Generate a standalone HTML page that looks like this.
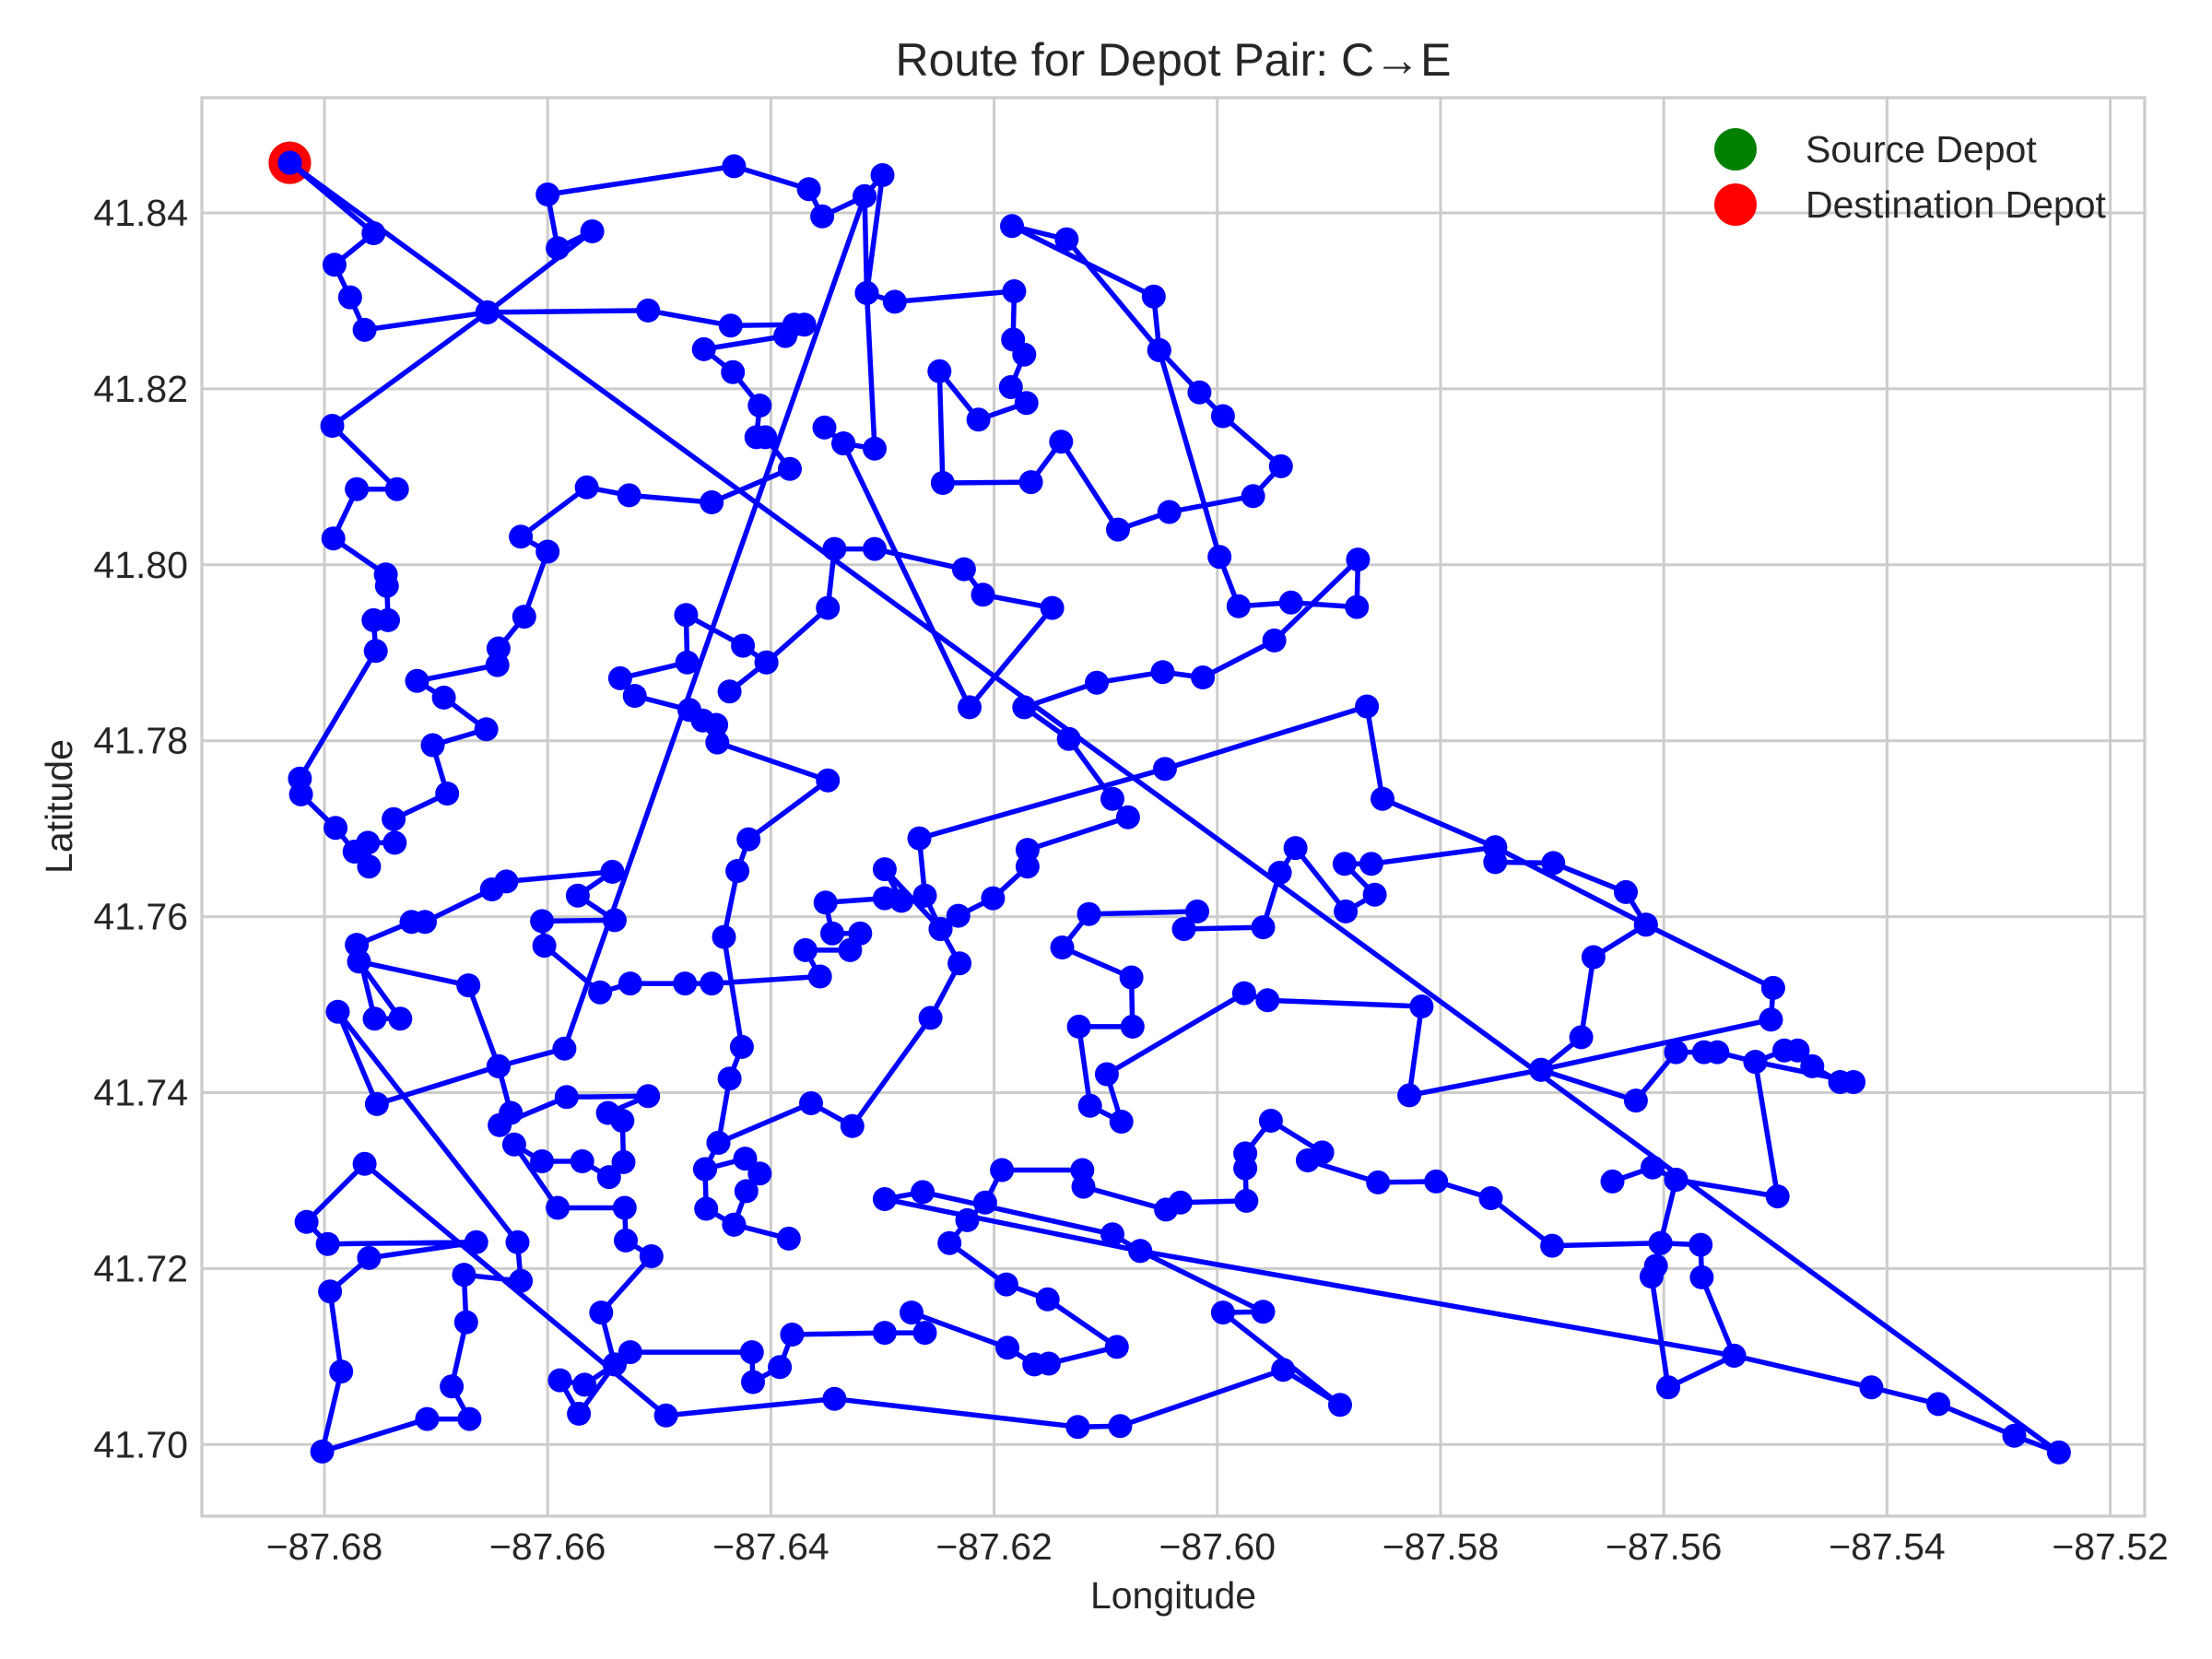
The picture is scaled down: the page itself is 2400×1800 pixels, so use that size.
<!DOCTYPE html>
<html>
<head>
<meta charset="utf-8">
<style>
  html,body{margin:0;padding:0;background:#fff;}
  svg{display:block;}
  text{font-family:"Liberation Sans", Arial, sans-serif; fill:#262626;}
</style>
</head>
<body>
<svg id="chart" width="2400" height="1800" viewBox="0 0 2400 1800" xmlns="http://www.w3.org/2000/svg">
  <rect x="0" y="0" width="2400" height="1800" fill="#fff"/>
  <g id="grid"></g>
  <g id="depots"></g>
  <g id="route"></g>
  <rect x="219" y="106" width="2108" height="1539" fill="none" stroke="#cccccc" stroke-width="3.3"/>
  <g id="xticks"></g>
  <g id="yticks"></g>
  <text x="1273" y="82" text-anchor="middle" font-size="50">Route for Depot Pair: C→E</text>
  <text x="1273" y="1745" text-anchor="middle" font-size="41">Longitude</text>
  <text x="0" y="0" transform="translate(78,875) rotate(-90)" text-anchor="middle" font-size="41">Latitude</text>
  <g>
    <g>
      <circle cx="1883" cy="162" r="23" fill="#008000"/>
      <text x="1959" y="176" font-size="41">Source Depot</text>
    </g>
    <g>
      <circle cx="1883" cy="222" r="23" fill="#ff0000"/>
      <text x="1959" y="236" font-size="41">Destination Depot</text>
    </g>
  </g>
</svg>
<script>
const xTickValues = [-87.68,-87.66,-87.64,-87.62,-87.60,-87.58,-87.56,-87.54,-87.52];
const xTickLabels = ["\u221287.68","\u221287.66","\u221287.64","\u221287.62","\u221287.60","\u221287.58","\u221287.56","\u221287.54","\u221287.52"];
const yTickValues = [41.70,41.72,41.74,41.76,41.78,41.80,41.82,41.84];
const yTickLabels = ["41.70","41.72","41.74","41.76","41.78","41.80","41.82","41.84"];
const sourceDepot = [-87.6831,41.8457];
const destinationDepot = [-87.6831,41.8457];
const route = [
[-87.6831,41.8457],[-87.6756,41.8377],[-87.6791,41.8341],[-87.6777,41.8304],[-87.6764,41.8267],[-87.6654,41.8287],
[-87.6793,41.8158],[-87.6735,41.8086],[-87.6771,41.8086],[-87.6792,41.8030],[-87.6745,41.7989],[-87.6744,41.7976],[-87.6743,41.7937],[-87.6756,41.7937],[-87.6754,41.7902],[-87.6822,41.7757],[-87.6821,41.7739],[-87.6790,41.7701],[-87.6773,41.7674],[-87.6760,41.7657],[-87.6761,41.7684],[-87.6737,41.7684],[-87.6738,41.7711],
[-87.6690,41.7740],[-87.6703,41.7795],[-87.6655,41.7813],[-87.6693,41.7849],[-87.6717,41.7868],[-87.6645,41.7886],[-87.6644,41.7905],[-87.6621,41.7941],[-87.6600,41.8015],[-87.6624,41.8032],[-87.6565,41.8088],[-87.6527,41.8079],[-87.6453,41.8071],[-87.6383,41.8109],[-87.6405,41.8145],[-87.6413,41.8145],[-87.6410,41.8181],[-87.6434,41.8219],[-87.6460,41.8245],[-87.6387,41.8260],[-87.6370,41.8273],[-87.6379,41.8273],[-87.6436,41.8272],[-87.6510,41.8289],[-87.6654,41.8287],
[-87.6560,41.8379],[-87.6591,41.8360],[-87.6600,41.8421],[-87.6433,41.8453],[-87.6366,41.8427],[-87.6354,41.8396],[-87.6316,41.8419],[-87.6300,41.8443],[-87.6314,41.8309],[-87.6289,41.8299],
[-87.6182,41.8311],[-87.6183,41.8256],[-87.6173,41.8239],[-87.6185,41.8202],[-87.6171,41.8184],[-87.6214,41.8165],[-87.6249,41.8220],[-87.6246,41.8093],[-87.6167,41.8094],[-87.6140,41.8140],[-87.6089,41.8040],[-87.6043,41.8060],[-87.5968,41.8078],[-87.5943,41.8112],[-87.5995,41.8169],[-87.6016,41.8196],[-87.6052,41.8244],[-87.6135,41.8370],[-87.6184,41.8385],[-87.6057,41.8305],[-87.6052,41.8244],[-87.5998,41.8009],[-87.5981,41.7953],[-87.5934,41.7957],[-87.5875,41.7952],[-87.5874,41.8006],[-87.5949,41.7914],[-87.6013,41.7872],[-87.6049,41.7878],[-87.6108,41.7866],[-87.6173,41.7838],[-87.6133,41.7802],[-87.6094,41.7734],[-87.6080,41.7713],
[-87.6170,41.7676],[-87.6170,41.7657],[-87.6201,41.7621],[-87.6232,41.7601],[-87.6248,41.7586],[-87.6262,41.7624],[-87.6267,41.7689],[-87.6047,41.7768],[-87.5866,41.7839],[-87.5852,41.7734],[-87.5751,41.7679],
[-87.5616,41.7591],[-87.5502,41.7519],[-87.5504,41.7483],[-87.5710,41.7426],
[-87.5828,41.7397],[-87.5817,41.7498],[-87.5955,41.7505],[-87.5976,41.7513],[-87.6099,41.7421],[-87.6086,41.7367],[-87.6114,41.7385],[-87.6124,41.7475],[-87.6076,41.7475],[-87.6077,41.7531],[-87.6139,41.7565],[-87.6115,41.7603],[-87.6018,41.7606],[-87.6030,41.7586],[-87.5959,41.7588],[-87.5944,41.7650],[-87.5930,41.7678],[-87.5885,41.7606],[-87.5859,41.7625],[-87.5886,41.7660],[-87.5862,41.7660],[-87.5751,41.7679],[-87.5751,41.7662],
[-87.5699,41.7661],[-87.5634,41.7628],[-87.5616,41.7591],[-87.5663,41.7554],[-87.5674,41.7463],[-87.5710,41.7426],[-87.5625,41.7391],[-87.5589,41.7446],[-87.5564,41.7446],[-87.5552,41.7446],[-87.5518,41.7435],[-87.5492,41.7448],[-87.5480,41.7448],[-87.5467,41.7430],[-87.5442,41.7412],[-87.5430,41.7412],[-87.5518,41.7435],[-87.5498,41.7282],[-87.5589,41.7301],[-87.5610,41.7315],[-87.5646,41.7299],[-87.5610,41.7315],[-87.5589,41.7301],[-87.5603,41.7229],[-87.5567,41.7227],[-87.5566,41.7190],[-87.5537,41.7101],[-87.5596,41.7065],[-87.5611,41.7191],[-87.5607,41.7203],[-87.5603,41.7229],[-87.5700,41.7226],
[-87.5755,41.7280],[-87.5804,41.7299],[-87.5856,41.7298],[-87.5919,41.7323],[-87.5906,41.7332],[-87.5952,41.7368],[-87.5975,41.7331],[-87.5975,41.7314],[-87.5974,41.7277],[-87.6033,41.7275],[-87.6046,41.7267],[-87.6120,41.7293],[-87.6121,41.7312],[-87.6193,41.7312],[-87.6208,41.7275],[-87.6224,41.7255],[-87.6240,41.7229],[-87.6189,41.7182],[-87.6152,41.7165],[-87.6090,41.7111],[-87.6151,41.7092],[-87.6164,41.7091],[-87.6188,41.7110],[-87.6274,41.7150],[-87.6262,41.7127],[-87.6298,41.7127],
[-87.6381,41.7125],[-87.6392,41.7088],[-87.6416,41.7071],[-87.6417,41.7105],[-87.6526,41.7105],[-87.6540,41.7091],[-87.6567,41.7068],[-87.6589,41.7073],[-87.6572,41.7035],[-87.6540,41.7091],[-87.6552,41.7150],[-87.6507,41.7214],[-87.6530,41.7232],[-87.6531,41.7269],[-87.6591,41.7269],[-87.6630,41.7341],[-87.6605,41.7322],[-87.6569,41.7322],[-87.6545,41.7304],[-87.6532,41.7321],[-87.6533,41.7368],[-87.6546,41.7377],[-87.6510,41.7396],[-87.6583,41.7395],[-87.6643,41.7363],[-87.6633,41.7377],
[-87.6644,41.7430],[-87.6671,41.7522],[-87.6769,41.7549],[-87.6732,41.7484],[-87.6755,41.7484],[-87.6771,41.7568],[-87.6722,41.7594],[-87.6710,41.7594],[-87.6650,41.7631],[-87.6637,41.7640],[-87.6542,41.7651],[-87.6573,41.7624],[-87.6540,41.7596],[-87.6605,41.7595],[-87.6603,41.7567],[-87.6553,41.7514],[-87.6526,41.7524],[-87.6477,41.7524],[-87.6453,41.7524],[-87.6356,41.7532],[-87.6369,41.7562],[-87.6329,41.7562],[-87.6320,41.7581],[-87.6345,41.7581],[-87.6351,41.7616],[-87.6298,41.7621],[-87.6283,41.7618],[-87.6298,41.7654],
[-87.6248,41.7586],[-87.6231,41.7547],[-87.6257,41.7485],[-87.6327,41.7362],[-87.6364,41.7388],[-87.6447,41.7343],[-87.6459,41.7313],[-87.6458,41.7268],[-87.6433,41.7250],[-87.6384,41.7234],[-87.6433,41.7250],[-87.6422,41.7288],[-87.6410,41.7308],[-87.6423,41.7325],[-87.6459,41.7313],[-87.6447,41.7343],[-87.6437,41.7416],[-87.6426,41.7452],[-87.6442,41.7577],[-87.6430,41.7652],[-87.6420,41.7688],[-87.6349,41.7755],[-87.6448,41.7798],[-87.6449,41.7818],[-87.6461,41.7823],[-87.6473,41.7835],[-87.6522,41.7851],[-87.6535,41.7871],[-87.6475,41.7889],[-87.6476,41.7943],[-87.6425,41.7908],[-87.6404,41.7889],[-87.6437,41.7856],[-87.6404,41.7889],[-87.6349,41.7951],[-87.6343,41.8018],[-87.6307,41.8018],[-87.6227,41.7995],[-87.6210,41.7966],[-87.6148,41.7951],[-87.6222,41.7838],[-87.6335,41.8138],[-87.6352,41.8156],[-87.6335,41.8138],[-87.6307,41.8132],[-87.6314,41.8309],[-87.6316,41.8419],[-87.6585,41.7450],
[-87.6644,41.7430],[-87.6753,41.7387],[-87.6788,41.7492],[-87.6627,41.7230],[-87.6624,41.7186],[-87.6675,41.7193],[-87.6673,41.7139],[-87.6686,41.7066],[-87.6670,41.7029],[-87.6708,41.7029],[-87.6802,41.6992],[-87.6785,41.7083],[-87.6795,41.7174],[-87.6760,41.7212],[-87.6664,41.7230],[-87.6797,41.7228],[-87.6816,41.7253],[-87.6764,41.7319],[-87.6494,41.7033],[-87.6343,41.7052],
[-87.6125,41.7020],[-87.6087,41.7021],[-87.5941,41.7085],[-87.5890,41.7045],[-87.5995,41.7150],[-87.5959,41.7151],[-87.6069,41.7220],[-87.6094,41.7239],[-87.6264,41.7287],[-87.6298,41.7279],[-87.6069,41.7220],
[-87.5537,41.7101],[-87.5414,41.7065],[-87.5354,41.7046],[-87.5286,41.7010],[-87.5246,41.6991],[-87.6831,41.8457]
];

const NS = "http://www.w3.org/2000/svg";
const plotLeft = 219, plotRight = 2327, plotTop = 106, plotBottom = 1645;
function xScale(lon){ return 352 + (lon + 87.68) / 0.02 * 242.2; }
function yScale(lat){ return 231 + (41.84 - lat) / 0.02 * 190.9; }

const grid = document.getElementById('grid');
const xt = document.getElementById('xticks');
const yt = document.getElementById('yticks');
xTickValues.forEach((v,i)=>{
  const x = xScale(v);
  const l = document.createElementNS(NS,'line');
  l.setAttribute('x1',x); l.setAttribute('x2',x);
  l.setAttribute('y1',plotTop); l.setAttribute('y2',plotBottom);
  l.setAttribute('stroke','#cccccc'); l.setAttribute('stroke-width','3');
  
  
  grid.appendChild(l);
  const t = document.createElementNS(NS,'text');
  t.setAttribute('x',x); t.setAttribute('y',1692);
  t.setAttribute('text-anchor','middle'); t.setAttribute('font-size','41');
  t.textContent = xTickLabels[i];
  
  
  xt.appendChild(t);
});
yTickValues.forEach((v,i)=>{
  const y = yScale(v);
  const l = document.createElementNS(NS,'line');
  l.setAttribute('x1',plotLeft); l.setAttribute('x2',plotRight);
  l.setAttribute('y1',y); l.setAttribute('y2',y);
  l.setAttribute('stroke','#cccccc'); l.setAttribute('stroke-width','3');
  
  
  grid.appendChild(l);
  const t = document.createElementNS(NS,'text');
  t.setAttribute('x',204); t.setAttribute('y',y+14);
  t.setAttribute('text-anchor','end'); t.setAttribute('font-size','41');
  t.textContent = yTickLabels[i];
  
  
  yt.appendChild(t);
});

const depots = document.getElementById('depots');
const src = document.createElementNS(NS,'circle');
src.setAttribute('cx',xScale(sourceDepot[0])); src.setAttribute('cy',yScale(sourceDepot[1]));
src.setAttribute('r','23'); src.setAttribute('fill','#008000');


depots.appendChild(src);
const dst = document.createElementNS(NS,'circle');
dst.setAttribute('cx',xScale(destinationDepot[0])); dst.setAttribute('cy',yScale(destinationDepot[1]));
dst.setAttribute('r','23'); dst.setAttribute('fill','#ff0000');


depots.appendChild(dst);

const rg = document.getElementById('route');
const pl = document.createElementNS(NS,'polyline');
pl.setAttribute('points', route.map(p=>xScale(p[0]).toFixed(1)+','+yScale(p[1]).toFixed(1)).join(' '));
pl.setAttribute('fill','none'); pl.setAttribute('stroke','#0000ff');
pl.setAttribute('stroke-width','5.5'); pl.setAttribute('stroke-linejoin','round');


rg.appendChild(pl);
route.forEach(p=>{
  const c = document.createElementNS(NS,'circle');
  c.setAttribute('cx',xScale(p[0]).toFixed(1)); c.setAttribute('cy',yScale(p[1]).toFixed(1));
  c.setAttribute('r','13'); c.setAttribute('fill','#0000ff');
  
  
  rg.appendChild(c);
});
</script>
</body>
</html>
